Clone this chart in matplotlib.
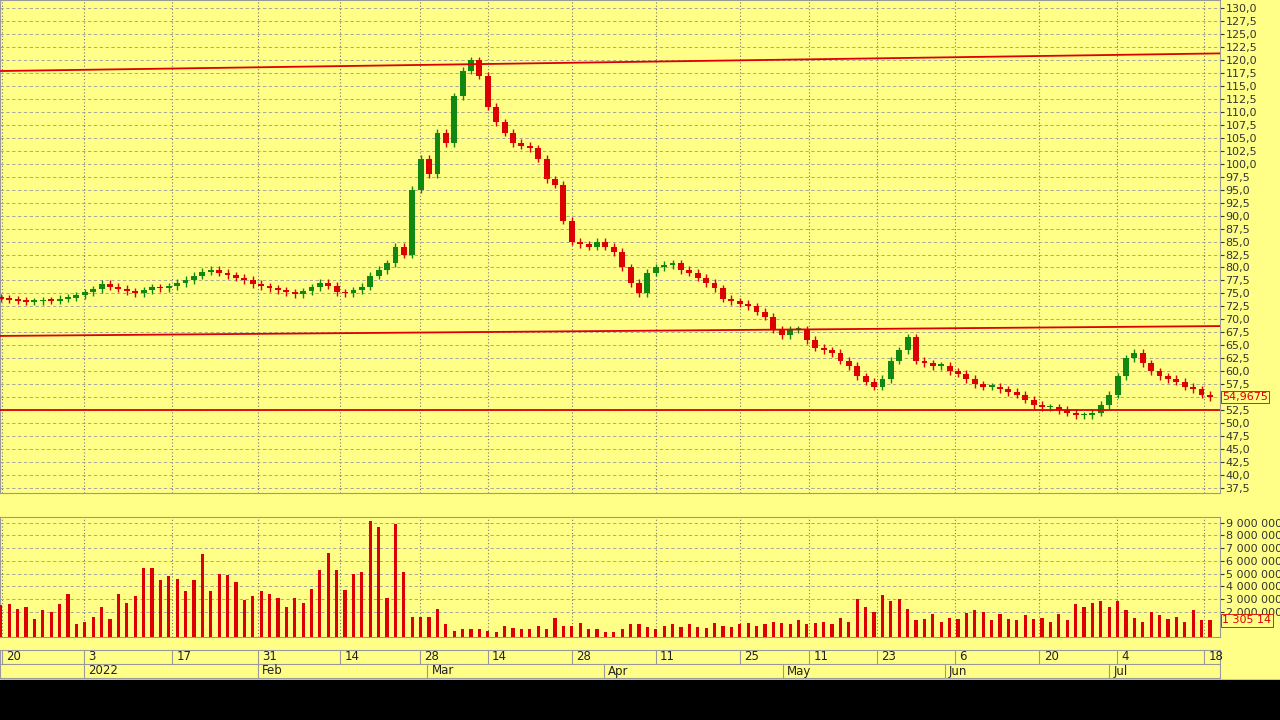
import matplotlib
matplotlib.use("Agg")
import matplotlib.pyplot as plt
import numpy as np

closes = [74.0,73.8,73.6,73.4,73.5,73.7,73.6,74.0,74.2,74.6,
75.2,75.8,76.9,76.3,75.9,75.4,75.0,75.6,76.2,76.0,
76.4,77.0,77.6,78.4,79.2,79.6,79.0,78.5,78.0,77.6,
76.8,76.4,76.0,75.6,75.2,74.8,75.4,76.2,77.0,76.5,
75.2,75.0,75.6,76.3,78.4,79.5,80.8,84.0,82.5,95.0,
101.0,98.0,106.0,104.0,113.0,118.0,120.0,117.0,111.0,108.0,
106.0,104.0,103.5,103.0,101.0,97.0,96.0,89.0,85.0,84.5,
84.0,85.0,84.0,83.0,80.0,77.0,75.0,79.0,80.0,80.5,
80.8,79.5,79.0,78.0,77.0,76.0,74.0,73.5,73.0,72.5,
71.5,70.5,68.0,67.0,68.0,68.0,66.0,64.5,64.0,63.5,
62.0,61.0,59.0,58.0,57.0,58.5,62.0,64.0,66.5,62.0,
61.5,61.0,61.0,60.0,59.5,58.5,57.5,57.0,57.0,56.5,
56.0,55.5,54.5,53.5,53.0,53.0,52.5,52.0,51.5,51.5,
52.0,53.5,55.5,59.0,62.5,63.5,61.5,60.0,59.0,58.5,
58.0,57.0,56.5,55.5,55.0]
opens = [74.2] + closes[:-1]

volumes_m = [2.5,2.6,2.2,2.4,1.4,2.1,2.0,2.6,3.4,
1.0,1.2,1.6,2.4,1.4,3.4,2.7,3.2,5.4,5.4,4.5,4.8,4.6,3.6,4.5,6.5,3.6,5.0,4.9,4.3,
2.9,3.2,3.6,3.4,3.1,2.4,3.1,2.7,3.8,5.3,6.6,5.3,3.7,5.0,5.1,9.1,8.7,3.1,8.9,5.1,
1.6,1.6,1.6,2.2,1.0,0.5,0.6,0.6,0.6,0.5,0.4,0.9,0.7,0.6,0.6,0.9,0.6,1.5,0.9,0.9,
1.1,0.6,0.6,0.4,0.4,0.6,1.0,
1.0,0.8,0.6,0.9,1.0,0.8,1.0,0.8,0.7,1.1,0.9,0.8,1.0,1.1,0.9,1.0,1.2,1.1,1.0,1.3,
1.0,1.1,1.2,1.0,1.5,1.2,3.0,2.4,2.0,3.3,2.8,3.0,2.2,1.3,1.4,1.8,1.2,1.5,1.4,1.9,
2.1,2.0,1.3,1.8,1.4,1.3,1.7,1.4,1.5,1.2,1.8,1.3,2.6,2.4,2.7,2.8,2.4,2.8,2.1,1.5,
1.2,2.0,1.7,1.4,1.6,1.2,2.1,1.3,1.3]

day_ticks = [0.1,9.9,20.4,30.6,40.4,49.9,58.0,68.0,78.0,88.0,96.3,104.4,113.6,123.7,132.9,143.3]
day_labels = ["20","3","17","31","14","28","14","28","11","25","11","23","6","20","4","18"]
month_ticks = [9.9,30.6,50.8,71.8,93.1,112.4,132.0]
month_labels = ["2022","Feb","Mar","Apr","May","Jun","Jul"]
trend_lines = [((-0.1,145.2),(117.9,121.3)), ((-0.1,145.2),(66.8,68.7)), ((-0.1,145.2),(52.5,52.5))]
last_price = "54,9675"
last_vol = "1 305 14"

BG = "#ffff88"
RED = "#dd0000"; GREEN = "#118811"
W, H = 1280, 720
XL = (-0.1, 145.2)
fig = plt.figure(figsize=(12.8, 7.2), dpi=100, facecolor=BG)
def ax_at(x0, y0, x1, y1):
    return fig.add_axes([x0/W, 1-y1/H, (x1-x0)/W, (y1-y0)/H])

ax = ax_at(0, 0, 1220, 493)
axv = ax_at(0, 517, 1220, 637)
for a in (ax, axv):
    a.set_facecolor(BG)
    a.set_xlim(*XL)
    for s in a.spines.values(): s.set_color("#999999")
    a.yaxis.tick_right()
    a.tick_params(axis="y", labelsize=8, length=3, pad=1, colors="#333333")
    a.tick_params(axis="x", bottom=False, labelbottom=False)
    for t in day_ticks:
        a.axvline(t, color="#777777", ls=(0,(1,2)), lw=0.8, zorder=0)

ax.set_ylim(36.5, 131.6)
yt = np.arange(37.5, 131, 2.5)
ax.set_yticks(yt)
ax.set_yticklabels([f"{v:.1f}".replace(".", ",") for v in yt])
for v in yt:
    ax.axhline(v, color="#999999", ls=(0,(4,3)), lw=0.6, zorder=0)

x = np.arange(len(closes))
for i in x:
    o, c = opens[i], closes[i]
    col = GREEN if c >= o else RED
    lo, hi = min(o, c), max(o, c)
    ax.vlines(i, lo-0.7, hi+0.7, color=col, lw=1, zorder=2)
    ax.bar(i, max(hi-lo, 0.3), bottom=lo, width=0.7, color=col, zorder=3)

for (xs, ys) in trend_lines:
    ax.plot(xs, ys, color=RED, lw=1.3, zorder=4)
ax.text(1.002, (55.0-36.5)/(131.6-36.5), last_price, transform=ax.transAxes, color=RED,
        fontsize=8, va="center", ha="left",
        bbox=dict(boxstyle="square,pad=0.1", fc=BG, ec=RED, lw=0.6))

axv.set_ylim(0, 9.45)
vt = np.arange(2, 10, 1)
axv.set_yticks(vt)
axv.set_yticklabels([f"{v} 000 000" for v in vt])
for v in vt:
    axv.axhline(v, color="#999999", ls=(0,(4,3)), lw=0.6, zorder=0)
axv.bar(np.arange(len(volumes_m)), volumes_m, width=0.38, color=RED, zorder=3)
axv.text(1.002, 1.3/9.45, last_vol, transform=axv.transAxes, color=RED, fontsize=8,
         va="center", ha="left", bbox=dict(boxstyle="square,pad=0.1", fc=BG, ec=RED, lw=0.6))

axd = ax_at(0, 650, 1220, 678)
axd.set_facecolor(BG)
axd.set_xlim(*XL); axd.set_ylim(0, 2)
axd.set_xticks([]); axd.set_yticks([])
for s in axd.spines.values(): s.set_color("#999999")
axd.axhline(1, color="#999999", lw=0.8)
for t, l in zip(day_ticks, day_labels):
    axd.plot([t, t], [1, 2], color="#999999", lw=0.8)
    axd.text(t+0.5, 1.5, l, fontsize=8.5, va="center", ha="left", color="#222222")
for t, l in zip(month_ticks, month_labels):
    axd.plot([t, t], [0, 1], color="#999999", lw=0.8)
    axd.text(t+0.5, 0.5, l, fontsize=8.5, va="center", ha="left", color="#222222")

fig.patches.append(matplotlib.patches.Rectangle((0, 0), 1, 40/H, transform=fig.transFigure, color="black"))
fig.savefig("out.png", dpi=100, facecolor=BG)
